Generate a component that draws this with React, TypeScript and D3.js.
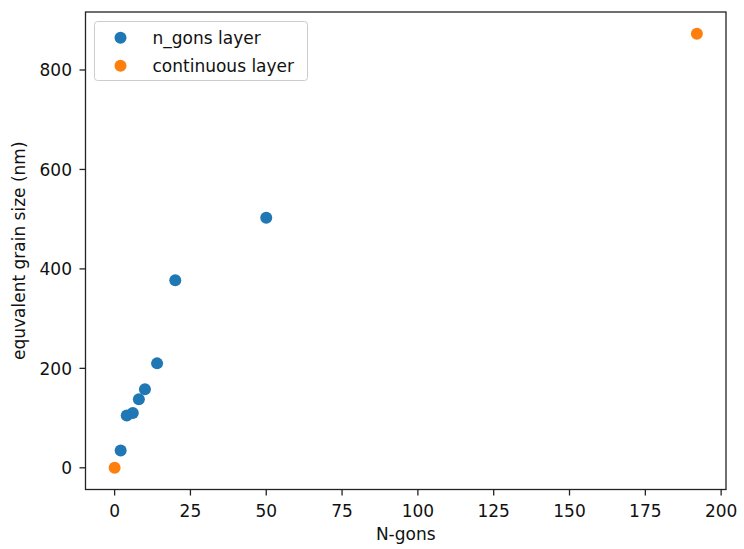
import React from "react";
import * as d3 from "d3";

const nGonsX = [2, 4, 6, 8, 10, 14, 20, 50];
const nGonsY = [35, 105, 110, 138, 158, 210, 377, 503];
const contX = [0, 192];
const contY = [0, 873];
const xTicks = [0, 25, 50, 75, 100, 125, 150, 175, 200];
const yTicks = [0, 200, 400, 600, 800];
const seriesNames = ["n_gons layer", "continuous layer"];
const colors = ["#1f77b4", "#ff7f0e"];

export default function App() {
  const W = 744, H = 549;
  const left = 85.5, right = 726, top = 12, bottom = 489.5;
  const x = d3.scaleLinear().domain([-9.6, 201.6]).range([left, right]);
  const y = d3.scaleLinear().domain([-43.65, 916.65]).range([bottom, top]);
  const font = "DejaVu Sans, sans-serif";
  const fs = 17;
  const series = [
    { xs: nGonsX, ys: nGonsY, color: colors[0] },
    { xs: contX, ys: contY, color: colors[1] },
  ];
  return (
    <svg width={W} height={H} style={{ position: "absolute", left: 0, top: 0, background: "#fff" }} fontFamily={font}>
      <rect x={0} y={0} width={W} height={H} fill="#fff" />
      {series.map((s, si) =>
        s.xs.map((xv, i) => (
          <circle key={`${si}-${i}`} cx={x(xv)} cy={y(s.ys[i])} r={6} fill={s.color} />
        ))
      )}
      <rect x={left} y={top} width={right - left} height={bottom - top} fill="none" stroke="#222" strokeWidth={1.3} />
      {xTicks.map((t) => (
        <g key={`x${t}`}>
          <line x1={x(t)} x2={x(t)} y1={bottom} y2={bottom + 6} stroke="#222" strokeWidth={1.3} />
          <text x={x(t)} y={517} fontSize={fs} textAnchor="middle" fill="#111">{t}</text>
        </g>
      ))}
      {yTicks.map((t) => (
        <g key={`y${t}`}>
          <line x1={left - 6} x2={left} y1={y(t)} y2={y(t)} stroke="#222" strokeWidth={1.3} />
          <text x={72} y={y(t) + 6.2} fontSize={fs} textAnchor="end" fill="#111">{t}</text>
        </g>
      ))}
      <text x={(left + right) / 2} y={540} fontSize={fs} textAnchor="middle" fill="#111">N-gons</text>
      <text transform={`translate(24.5,${(top + bottom) / 2}) rotate(-90)`} fontSize={fs} textAnchor="middle" fill="#111">equvalent grain size (nm)</text>
      <rect x={94.5} y={21.5} width={213} height={59} rx={3} fill="#fff" fillOpacity={0.8} stroke="#ccc" strokeWidth={1} />
      {seriesNames.map((n, i) => (
        <g key={n}>
          <circle cx={120.5} cy={37.8 + i * 28} r={6} fill={colors[i]} />
          <text x={152.5} y={43.5 + i * 28} fontSize={fs} fill="#111">{n}</text>
        </g>
      ))}
    </svg>
  );
}
